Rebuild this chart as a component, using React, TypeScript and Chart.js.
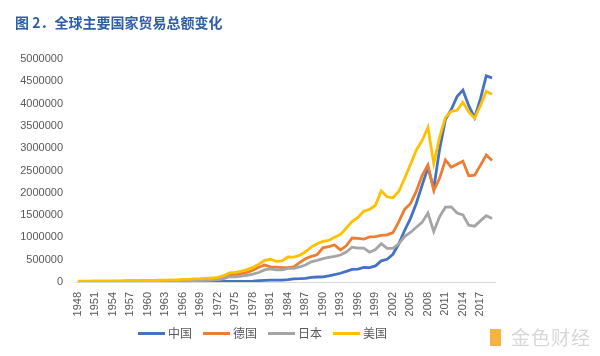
import React, { useEffect, useRef } from "react";
import { Chart, registerables } from "chart.js";

Chart.register(...registerables);

const years = [
  1948, 1949, 1950, 1951, 1952, 1953, 1954, 1955, 1956, 1957, 1958, 1959,
  1960, 1961, 1962, 1963, 1964, 1965, 1966, 1967, 1968, 1969, 1970, 1971,
  1972, 1973, 1974, 1975, 1976, 1977, 1978, 1979, 1980, 1981, 1982, 1983,
  1984, 1985, 1986, 1987, 1988, 1989, 1990, 1991, 1992, 1993, 1994, 1995,
  1996, 1997, 1998, 1999, 2000, 2001, 2002, 2003, 2004, 2005, 2006, 2007,
  2008, 2009, 2010, 2011, 2012, 2013, 2014, 2015, 2016, 2017, 2018, 2019,
];

const china = [
  1000, 1100, 1200, 2000, 1900, 2400, 2400, 3100, 3200, 3100, 3900, 4400,
  3800, 2900, 2700, 2900, 3500, 4200, 4600, 4200, 4100, 4000, 4600, 4800,
  6300, 11000, 14600, 14800, 13400, 14800, 20600, 29300, 38100, 44000, 41600, 43600,
  53500, 69600, 73800, 82700, 102800, 111700, 115400, 135700, 165500, 195700, 236600, 280900,
  289900, 325200, 324200, 360600, 474300, 509700, 620800, 851200, 1154600, 1421900, 1760400, 2166200,
  2563300, 2100000, 2974000, 3641900, 3867100, 4159000, 4301500, 3953000, 3685600, 4107100, 4622400, 4578000,
];

const germany = [
  2000, 3100, 4700, 6800, 7900, 8800, 10700, 12800, 14900, 17100, 17200, 19600,
  21500, 23400, 25900, 28600, 32100, 35100, 38200, 38600, 44700, 54000, 63900, 73000,
  86700, 122500, 158000, 165000, 190000, 218000, 263000, 330000, 380000, 339000, 332000, 322000,
  324000, 341000, 434000, 522000, 573000, 611000, 767000, 793000, 831000, 720000, 812000, 987000,
  979000, 960000, 1011000, 1016000, 1046000, 1058000, 1106000, 1348000, 1628000, 1756000, 2030000, 2385000,
  2624000, 2051000, 2325000, 2736000, 2571000, 2640000, 2709000, 2380000, 2394000, 2615000, 2846000, 2723000,
];

const japan = [
  800, 1400, 1800, 3300, 3300, 3700, 4000, 4500, 5700, 7100, 5900, 7000,
  8500, 10000, 10500, 12200, 14600, 16600, 19300, 22100, 25900, 31000, 38200, 43800,
  52500, 75300, 117600, 113600, 131800, 151200, 177600, 213400, 270700, 295400, 270600, 272400,
  306800, 307600, 337200, 380400, 452300, 484600, 522700, 551100, 572900, 604700, 672900, 779800,
  760200, 759600, 668600, 729100, 858900, 752200, 753300, 855000, 1020000, 1110000, 1227000, 1336000,
  1545000, 1132000, 1463000, 1678000, 1684000, 1548000, 1506000, 1273000, 1252000, 1370000, 1487000, 1426000,
];

const usa = [
  19700, 19000, 19200, 26000, 26000, 26100, 25300, 26900, 31500, 34300, 31000, 33200,
  36400, 36200, 38900, 41400, 45900, 49300, 56800, 59400, 68700, 74500, 83400, 89300,
  104800, 141600, 204700, 213000, 245300, 279300, 327600, 400300, 483300, 509800, 462300, 470900,
  560500, 557900, 597300, 678000, 782100, 857500, 910600, 930300, 1001800, 1067800, 1205600, 1355600,
  1446100, 1587400, 1627900, 1720500, 2040900, 1910900, 1887800, 2028000, 2320000, 2634000, 2956000, 3168000,
  3465000, 2660000, 3247000, 3690000, 3826000, 3849000, 4031000, 3815000, 3672000, 3953000, 4278000, 4207000,
];

const seriesNames = ["中国", "德国", "日本", "美国"];
const seriesColors = ["#4472C4", "#ED7D31", "#A5A5A5", "#FFC000"];
const seriesValues = [china, germany, japan, usa];

const yMin = 0;
const yMax = 5000000;
const yStep = 500000;

const titleText = "图 2．全球主要国家贸易总额变化";
const watermarkText = "金色财经";

export default function App() {
  const ref = useRef<HTMLCanvasElement>(null);

  useEffect(() => {
    if (!ref.current) return;
    const chart = new Chart(ref.current, {
      type: "line",
      data: {
        labels: years.map(String),
        datasets: seriesValues.map((vals, i) => ({
          label: seriesNames[i],
          data: vals,
          borderColor: seriesColors[i],
          backgroundColor: seriesColors[i],
          borderWidth: 2.8,
          pointRadius: 0,
          tension: 0,
          fill: false,
          order: seriesValues.length - i,
        })),
      },
      options: {
        animation: false,
        responsive: false,
        maintainAspectRatio: false,
        layout: { padding: { left: 0, top: 59, right: 105, bottom: 0 } },
        plugins: {
          legend: { display: false },
          tooltip: { enabled: false },
          title: { display: false },
        },
        scales: {
          x: {
            offset: true,
            grid: { display: false, drawTicks: false },
            border: { display: true, color: "#d9d9d9", width: 1 },
            ticks: {
              autoSkip: false,
              minRotation: 90,
              maxRotation: 90,
              padding: 10,
              color: "#595959",
              font: { family: "'Liberation Sans', Arial, sans-serif", size: 11 },
              callback: (_v: any, i: number) => (i % 3 === 0 ? String(years[i]) : ""),
            },
            afterFit: (s: any) => {
              s.height = 74;
            },
          },
          y: {
            min: yMin,
            max: yMax,
            grid: { display: false, drawTicks: false },
            border: { display: false },
            ticks: {
              stepSize: yStep,
              padding: 12,
              color: "#595959",
              font: { family: "'Liberation Sans', Arial, sans-serif", size: 11 },
              callback: (v: any) => String(v),
            },
            afterFit: (s: any) => {
              s.width = 75;
            },
          },
        },
      },
    });
    return () => chart.destroy();
  }, []);

  return (
    <div
      style={{
        position: "fixed",
        left: 0,
        top: 0,
        width: 600,
        height: 356,
        background: "#ffffff",
        overflow: "hidden",
      }}
    >
      <canvas
        ref={ref}
        width={600}
        height={356}
        style={{ position: "absolute", left: 0, top: 0, width: 600, height: 356 }}
      />
      <div
        style={{
          position: "absolute",
          left: 15,
          top: 12,
          fontFamily: "'Noto Sans CJK SC', sans-serif",
          fontSize: 14,
          fontWeight: 700,
          color: "#2F5EA8",
          lineHeight: "20px",
          whiteSpace: "nowrap",
        }}
      >
        {titleText}
      </div>
      <div
        style={{
          position: "absolute",
          left: 138,
          top: 324,
          display: "flex",
          alignItems: "center",
          gap: 11,
          fontFamily: "'Noto Sans CJK SC', sans-serif",
          fontSize: 12,
          color: "#595959",
          lineHeight: "18px",
        }}
      >
        {seriesNames.map((name, i) => (
          <div key={name} style={{ display: "flex", alignItems: "center" }}>
            <span
              style={{
                display: "inline-block",
                width: 27,
                height: 3,
                background: seriesColors[i],
                marginRight: 3,
              }}
            />
            <span>{name}</span>
          </div>
        ))}
      </div>
      <div
        style={{
          position: "absolute",
          left: 490,
          top: 326,
          display: "flex",
          alignItems: "center",
          opacity: 0.85,
        }}
      >
        <span
          style={{
            display: "inline-block",
            width: 11,
            height: 17,
            background: "#F5A623",
            marginRight: 10,
          }}
        />
        <span
          style={{
            fontFamily: "'Noto Sans CJK SC', sans-serif",
            fontSize: 19,
            color: "#d0d0d0",
            letterSpacing: 1,
            lineHeight: "22px",
            textShadow: "0 0 1px #ffffff",
          }}
        >
          {watermarkText}
        </span>
      </div>
    </div>
  );
}
